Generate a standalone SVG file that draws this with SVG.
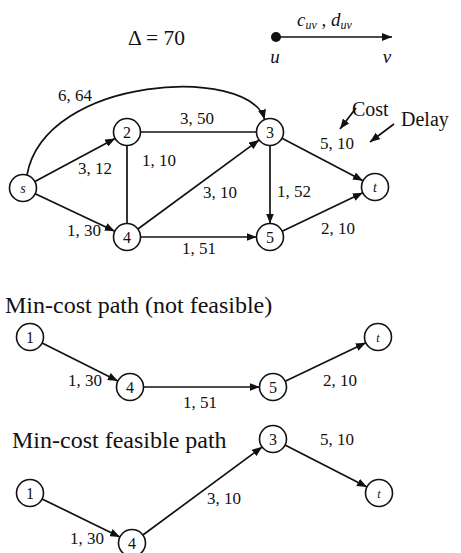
<svg xmlns="http://www.w3.org/2000/svg" width="461" height="553" viewBox="0 0 461 553" font-family="Liberation Serif, Times New Roman, serif">
<style>
text{font-family:'Liberation Serif','Times New Roman',serif;fill:#111}
.lb{font-size:17px}
.nd circle{fill:#fff;stroke:#111;stroke-width:1.6}
.nd text{font-size:16px;text-anchor:middle}
.nd text.it{font-style:italic;font-size:14px}
.e{stroke:#111;stroke-width:1.7;fill:none}
.a{marker-end:url(#ah)}
.ttl{font-size:24px}
</style>
<defs>
<marker id="ah" markerUnits="userSpaceOnUse" markerWidth="11" markerHeight="8" refX="10" refY="4" orient="auto">
<path d="M0,0 L10,4 L0,8 z" fill="#111"/>
</marker>
</defs>

<!-- legend -->
<g id="legend">
<text x="128" y="45" style="font-size:21.5px">Δ = 70</text>
<circle cx="276" cy="37" r="5" fill="#111"/>
<line class="e a" x1="276" y1="37" x2="392" y2="37"/>
<text x="297" y="26" style="font-size:19px;font-style:italic">c<tspan dy="3" style="font-size:12px">uv</tspan><tspan dy="-3"> , d</tspan><tspan dy="3" style="font-size:12px">uv</tspan></text>
<text x="275" y="63" style="font-size:19px;font-style:italic" text-anchor="middle">u</text>
<text x="387" y="63" style="font-size:19px;font-style:italic" text-anchor="middle">v</text>
<text x="352" y="116" style="font-size:20px">Cost</text>
<text x="401" y="126" style="font-size:20px">Delay</text>
<line class="e a" x1="356" y1="108" x2="340" y2="129"/>
<line class="e a" x1="394" y1="124" x2="370" y2="142"/>
</g>

<!-- connectors -->
<g id="connectors">
<path class="e a" d="M27,175 C45,75 250,65 264.6,119.6"/>
<line class="e a" x1="34.9" y1="181.6" x2="115.1" y2="138.4"/>
<line class="e a" x1="35.2" y1="193.8" x2="114.8" y2="231.2"/>
<line class="e" x1="127" y1="145.5" x2="127" y2="223.5"/>
<line class="e" x1="140.5" y1="132" x2="256.5" y2="132"/>
<line class="e a" x1="137.9" y1="229" x2="259.1" y2="140"/>
<line class="e a" x1="140.5" y1="237" x2="256.5" y2="237"/>
<line class="e a" x1="270" y1="145.5" x2="270" y2="223.5"/>
<line class="e a" x1="282" y1="138.3" x2="363" y2="180.7"/>
<line class="e a" x1="282.2" y1="231.2" x2="362.8" y2="192.8"/>

<line class="e a" x1="42.1" y1="343" x2="117.9" y2="381"/>
<line class="e a" x1="143.5" y1="387" x2="259.5" y2="387"/>
<line class="e a" x1="285.2" y1="381.2" x2="365.8" y2="342.8"/>

<line class="e a" x1="42.1" y1="498.9" x2="119.9" y2="537.1"/>
<line class="e a" x1="142.9" y1="535" x2="262.1" y2="447"/>
<line class="e a" x1="285" y1="445.1" x2="367" y2="486.9"/>
</g>

<!-- edge labels -->
<g id="edge-labels" class="lb">
<text x="58" y="101">6, 64</text>
<text x="180" y="124">3, 50</text>
<text x="78" y="174">3, 12</text>
<text x="142" y="166">1, 10</text>
<text x="203" y="198">3, 10</text>
<text x="67" y="236">1, 30</text>
<text x="182" y="254">1, 51</text>
<text x="277" y="197">1, 52</text>
<text x="320" y="149">5, 10</text>
<text x="321" y="234">2, 10</text>

<text x="68" y="386">1, 30</text>
<text x="183" y="408">1, 51</text>
<text x="323" y="386">2, 10</text>

<text x="207" y="504">3, 10</text>
<text x="320" y="445">5, 10</text>
<text x="70" y="544">1, 30</text>
</g>

<g id="titles">
<text class="ttl" x="5" y="313">Min-cost path (not feasible)</text>
<text class="ttl" x="12" y="448">Min-cost feasible path</text>
</g>

<!-- main graph nodes -->
<g id="n-s" class="nd"><circle cx="23" cy="188" r="13.5"/><text class="it" x="23" y="193">s</text></g>
<g id="n-2" class="nd"><circle cx="127" cy="132" r="13.5"/><text x="127" y="138">2</text></g>
<g id="n-3" class="nd"><circle cx="270" cy="132" r="13.5"/><text x="270" y="138">3</text></g>
<g id="n-4" class="nd"><circle cx="127" cy="237" r="13.5"/><text x="127" y="243">4</text></g>
<g id="n-5" class="nd"><circle cx="270" cy="237" r="13.5"/><text x="270" y="243">5</text></g>
<g id="n-t" class="nd"><circle cx="375" cy="187" r="13.5"/><text class="it" x="375" y="192">t</text></g>

<!-- path 1 nodes -->
<g id="p1-1" class="nd"><circle cx="30" cy="337" r="13.5"/><text x="30" y="343">1</text></g>
<g id="p1-4" class="nd"><circle cx="130" cy="387" r="13.5"/><text x="130" y="393">4</text></g>
<g id="p1-5" class="nd"><circle cx="273" cy="387" r="13.5"/><text x="273" y="393">5</text></g>
<g id="p1-t" class="nd"><circle cx="378" cy="337" r="13.5"/><text class="it" x="378" y="342" style="font-size:12px">t</text></g>

<!-- path 2 nodes -->
<g id="p2-1" class="nd"><circle cx="30" cy="493" r="13.5"/><text x="30" y="499">1</text></g>
<g id="p2-4" class="nd"><circle cx="132" cy="543" r="13.5"/><text x="132" y="549">4</text></g>
<g id="p2-3" class="nd"><circle cx="273" cy="439" r="13.5"/><text x="273" y="445">3</text></g>
<g id="p2-t" class="nd"><circle cx="379" cy="493" r="13.5"/><text class="it" x="379" y="498" style="font-size:12px">t</text></g>
</svg>
